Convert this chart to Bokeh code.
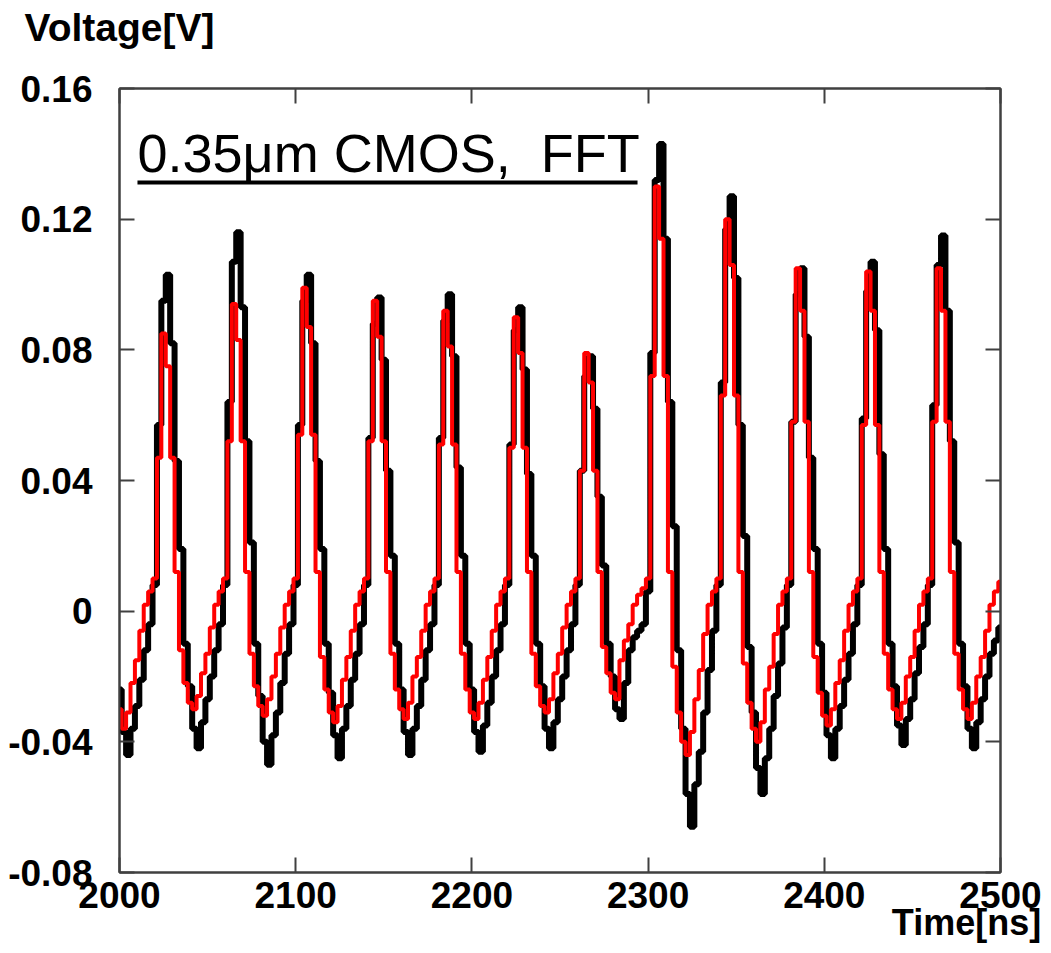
import numpy as np
from bokeh.plotting import figure
from bokeh.models import Range1d, FixedTicker, LinearAxis, Label, BoxAnnotation, CustomJSTickFormatter
from bokeh.embed import file_html
from bokeh.resources import INLINE

# ---- data ----
t_start, t_step = 2000.0, 2.5
time_ns = np.arange(201) * t_step + t_start

measured_v = [
    -0.024, -0.037,
    -0.044, -0.036, -0.029, -0.021, -0.012, -0.004, 0.008, 0.057, 0.095, 0.103, 0.082, 0.046, 0.019, -0.010, -0.023, -0.036,
    -0.042, -0.034, -0.027, -0.020, -0.012, -0.004, 0.008, 0.064, 0.107, 0.116, 0.093, 0.052, 0.021, -0.010, -0.026, -0.040,
    -0.047, -0.038, -0.031, -0.022, -0.013, -0.004, 0.008, 0.057, 0.095, 0.103, 0.082, 0.046, 0.019, -0.010, -0.025, -0.038,
    -0.045, -0.036, -0.029, -0.021, -0.013, -0.004, 0.008, 0.053, 0.088, 0.096, 0.077, 0.043, 0.017, -0.010, -0.024, -0.037,
    -0.044, -0.036, -0.029, -0.021, -0.012, -0.004, 0.008, 0.053, 0.089, 0.097, 0.078, 0.044, 0.017, -0.010, -0.024, -0.037,
    -0.043, -0.035, -0.028, -0.020, -0.012, -0.004, 0.008, 0.051, 0.086, 0.093, 0.074, 0.042, 0.017, -0.010, -0.023, -0.036,
    -0.042, -0.034, -0.027, -0.020, -0.012, -0.004, 0.008, 0.043, 0.072, 0.078, 0.062, 0.035, 0.014, -0.010, -0.020, -0.030,
    -0.033, -0.022, -0.012, -0.008, -0.006, -0.004, 0.006, 0.079, 0.132, 0.143, 0.114, 0.064, 0.026, -0.012, -0.036, -0.056,
    -0.066, -0.053, -0.043, -0.031, -0.018, -0.006, 0.008, 0.070, 0.117, 0.127, 0.102, 0.057, 0.023, -0.011, -0.031, -0.048,
    -0.056, -0.045, -0.036, -0.026, -0.016, -0.005, 0.008, 0.058, 0.097, 0.105, 0.084, 0.047, 0.019, -0.010, -0.025, -0.038,
    -0.045, -0.036, -0.029, -0.021, -0.013, -0.004, 0.008, 0.059, 0.098, 0.107, 0.086, 0.048, 0.019, -0.010, -0.023, -0.035,
    -0.041, -0.033, -0.027, -0.019, -0.011, -0.004, 0.008, 0.063, 0.106, 0.115, 0.092, 0.052, 0.021, -0.010, -0.023, -0.036,
    -0.042, -0.034, -0.027, -0.020, -0.013, -0.009, -0.005,
]

simulated_v = [
    -0.030,
    -0.036, -0.031, -0.022, -0.015, -0.006, 0.002, 0.006, 0.010, 0.047, 0.085, 0.075, 0.047, 0.012, -0.012, -0.022, -0.028,
    -0.030, -0.026, -0.019, -0.013, -0.005, 0.002, 0.006, 0.010, 0.052, 0.094, 0.083, 0.052, 0.012, -0.013, -0.023, -0.029,
    -0.032, -0.027, -0.020, -0.013, -0.005, 0.002, 0.006, 0.010, 0.054, 0.099, 0.087, 0.054, 0.012, -0.014, -0.024, -0.031,
    -0.034, -0.029, -0.021, -0.014, -0.006, 0.002, 0.006, 0.010, 0.052, 0.095, 0.084, 0.052, 0.012, -0.013, -0.024, -0.030,
    -0.033, -0.028, -0.020, -0.014, -0.006, 0.002, 0.006, 0.010, 0.051, 0.092, 0.081, 0.051, 0.012, -0.013, -0.024, -0.031,
    -0.033, -0.028, -0.021, -0.014, -0.006, 0.002, 0.006, 0.010, 0.050, 0.090, 0.079, 0.050, 0.012, -0.013, -0.023, -0.029,
    -0.031, -0.027, -0.019, -0.013, -0.005, 0.002, 0.006, 0.010, 0.043, 0.079, 0.070, 0.043, 0.012, -0.011, -0.019, -0.025,
    -0.027, -0.015, -0.009, -0.004, 0.002, 0.005, 0.007, 0.010, 0.072, 0.130, 0.114, 0.072, 0.012, -0.017, -0.031, -0.040,
    -0.044, -0.037, -0.027, -0.018, -0.007, 0.002, 0.006, 0.010, 0.066, 0.120, 0.106, 0.066, 0.012, -0.016, -0.028, -0.036,
    -0.040, -0.034, -0.024, -0.017, -0.007, 0.002, 0.006, 0.010, 0.058, 0.105, 0.092, 0.058, 0.012, -0.014, -0.025, -0.032,
    -0.035, -0.030, -0.022, -0.015, -0.006, 0.002, 0.006, 0.010, 0.057, 0.104, 0.092, 0.057, 0.012, -0.013, -0.024, -0.030,
    -0.033, -0.028, -0.020, -0.014, -0.006, 0.002, 0.006, 0.010, 0.058, 0.105, 0.092, 0.058, 0.012, -0.013, -0.024, -0.030,
    -0.033, -0.028, -0.020, -0.014, -0.006, 0.002, 0.006, 0.009,
]

x_ticks = [2000, 2100, 2200, 2300, 2400, 2500]
y_ticks = [-0.08, -0.04, 0.0, 0.04, 0.08, 0.12, 0.16]
y_tick_labels = ["-0.08", "-0.04", "0", "0.04", "0.08", "0.12", "0.16"]

title_text = "0.35\u03bcm CMOS,\u00a0 FFT"
y_label = "Voltage[V]"
x_label = "Time[ns]"
x_label_anchor = 2480.7   # where the "Time[ns]" text is centred along the time axis

# ---- figure ----
FONT = "Liberation Sans"
AX = "#404040"
p = figure(width=1043, height=945,
           x_range=Range1d(2000, 2500), y_range=Range1d(-0.08, 0.16),
           output_backend="svg", toolbar_location=None,
           min_border_left=119, min_border_right=43,
           min_border_top=88, min_border_bottom=73)
p.grid.visible = False
p.background_fill_color = "white"
p.border_fill_color = "white"
p.outline_line_color = AX
p.outline_line_width = 2

def style_axis(ax, labels=True, size="37px"):
    ax.major_tick_in = 15
    ax.major_tick_out = 0
    ax.minor_tick_line_color = None
    ax.major_tick_line_color = AX
    ax.major_tick_line_width = 2
    ax.axis_line_color = AX
    ax.axis_line_width = 2
    ax.major_label_text_font = FONT
    ax.major_label_text_font_style = "bold"
    ax.major_label_text_font_size = size if labels else "1px"
    ax.major_label_text_color = "black" if labels else None

# bottom time axis
xa = p.xaxis[0]
xa.ticker = FixedTicker(ticks=x_ticks)
style_axis(xa)
xa.major_label_standoff = 9

# y axis with custom tick labels
ya = p.yaxis[0]
ya.ticker = FixedTicker(ticks=y_ticks)
ya.formatter = CustomJSTickFormatter(args=dict(vals=y_ticks, labs=y_tick_labels), code="""
let best = 0, bd = 1e9;
for (let i = 0; i < vals.length; i++) { const d = Math.abs(vals[i] - tick); if (d < bd) { bd = d; best = i; } }
return labs[best];
""")
style_axis(ya)
ya.major_label_standoff = 27

# top axis: inside ticks, carries the "Voltage[V]" caption above the first tick
top_ax = LinearAxis(ticker=FixedTicker(ticks=x_ticks))
style_axis(top_ax, size="39px")
top_ax.formatter = CustomJSTickFormatter(args=dict(txt=y_label, first=x_ticks[0]),
                                         code="return Math.abs(tick - first) < 1e-6 ? txt : '';")
top_ax.major_label_standoff = 40
p.add_layout(top_ax, "above")

# right axis: inside ticks only
right_ax = LinearAxis(ticker=FixedTicker(ticks=y_ticks))
style_axis(right_ax, labels=False)
right_ax.major_label_standoff = 0
p.add_layout(right_ax, "right")

# second bottom axis: only the "Time[ns]" caption
cap_ax = LinearAxis(ticker=FixedTicker(ticks=[x_label_anchor]))
cap_ax.formatter = CustomJSTickFormatter(args=dict(txt=x_label), code="return txt;")
cap_ax.major_tick_line_color = None
cap_ax.minor_tick_line_color = None
cap_ax.axis_line_color = None
cap_ax.major_label_text_font = FONT
cap_ax.major_label_text_font_style = "bold"
cap_ax.major_label_text_font_size = "36px"
cap_ax.major_label_text_color = "black"
cap_ax.major_label_standoff = -15
p.add_layout(cap_ax, "below")

# ---- data lines ----
p.step(time_ns, measured_v, mode="center", line_color="black", line_width=6)
p.step(time_ns, simulated_v, mode="center", line_color="#ff0000", line_width=4)

# ---- in-plot caption with underline ----
p.add_layout(Label(x=2010.2, y=0.14929, text=title_text, text_font=FONT,
                   text_font_size="54px", text_color="black",
                   text_align="left", text_baseline="top"))
p.add_layout(BoxAnnotation(left=2010.2, right=2294.0, bottom=0.13061, top=0.13184,
                           fill_color="black", fill_alpha=1.0, line_color=None))

open("out.html", "w").write(file_html(p, INLINE))
